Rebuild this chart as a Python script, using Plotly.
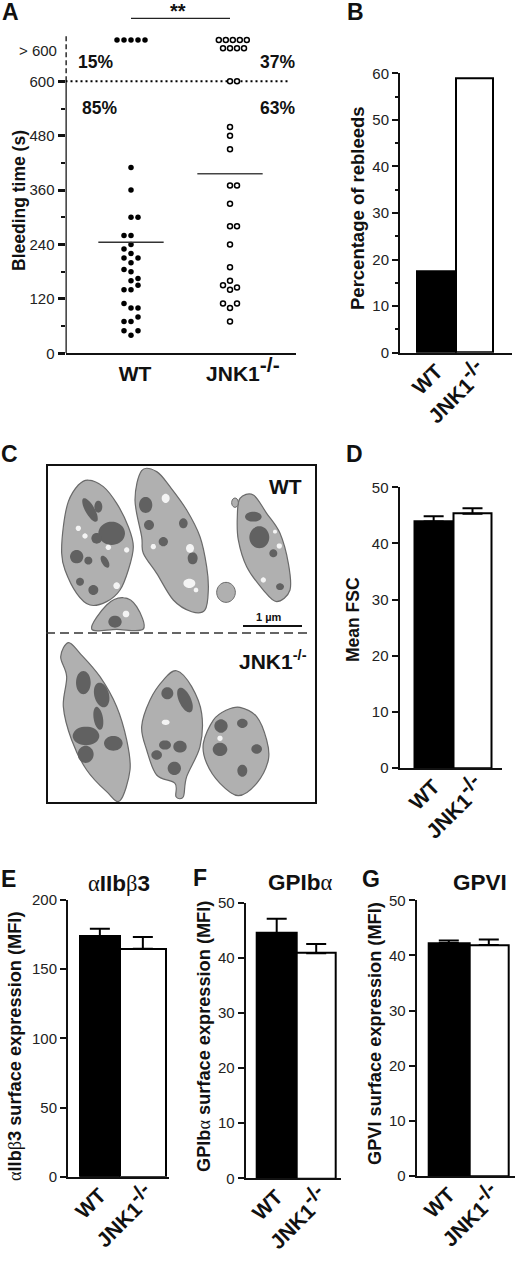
import math
import plotly.graph_objects as go

W, H = 520, 1261
FONT = "Liberation Sans"
INK = "#111111"

# ---------- Panel A data (bleeding time, seconds) ----------
WT_SECONDS = [410, 360, 300, 300, 260, 260, 240, 230, 220, 210, 210, 200, 185, 180, 165, 160, 150,
              140, 140, 110, 100, 100, 80, 70, 70, 50, 50, 40]
WT_SLOTS = [0, 0, 0, 1, -1, 0, 0, -1, 0, -1, 1, 0, -1, 0, 1, 0, 1, -1, 0, -1, 0, 1, 1, -1, 0, -1, 1, 0]
WT_OVER = [691, 691, 691, 691, 691]
WT_OVER_SLOTS = [-2, -1, 0, 1, 2]
KO_SECONDS = [600, 600, 499, 480, 450, 370, 370, 330, 280, 280, 240, 190, 160, 150, 145, 140, 110, 110, 100, 70]
KO_SLOTS = [0, 1, 0, 0, 0, 0, 1, 0, 0, 1, 0, 0, 0, -1, 1, 0, -1, 1, 0, 0]
KO_OVER = [691, 691, 691, 691, 691, 673, 673, 673, 673]
KO_OVER_SLOTS = [-1.6, -0.6, 0.4, 1.4, 2.4, -1, 0, 1, 2]
WT_MEAN = 245
KO_MEAN = 396

# ---------- Bar panels ----------
CATEGORIES = ["WT", 'JNK1<sup><span style="font-size:21px">-/-</span></sup>']
REBLEEDS = [17.4, 58.9]
FSC = [43.9, 45.3]
FSC_ERR = [0.95, 0.95]
AIIB = [174.0, 164.8]
AIIB_ERR = [5.3, 8.5]
GPIB = [44.5, 40.85]
GPIB_ERR = [2.6, 1.65]
GPVI = [42.25, 41.9]
GPVI_ERR = [0.45, 1.0]

fig = go.Figure()
layout = dict(
    width=W, height=H, autosize=False, margin=dict(l=0, r=0, t=0, b=0, autoexpand=False),
    paper_bgcolor="white", plot_bgcolor="rgba(0,0,0,0)", showlegend=False,
    font=dict(family=FONT, color=INK),
)
annots, shapes = [], []


def xp(px):
    return px / W


def yp(py):
    return 1 - py / H


def note(text, x, y, size=15, angle=0, anchor="center", color=INK):
    annots.append(dict(text=text, x=xp(x), y=yp(y), xref="paper", yref="paper", showarrow=False,
                       font=dict(size=size, family=FONT, color=color), textangle=angle,
                       xanchor=anchor, yanchor="middle", align="center"))


# ---------- Panel A ----------
A_LEFT, A_RIGHT, A_ZERO, A_TOP = 65.5, 296, 353.3, 10
A_UNIT = 54.4 / 120
a_top = (A_ZERO - A_TOP) / A_UNIT
a_x0 = 1 - (131 - A_LEFT) / 99
a_x1 = 1 + (A_RIGHT - 131) / 99
SPACE = 0.0707


def slots(center, s):
    return [center + k * SPACE for k in s]


layout["xaxis"] = dict(domain=[xp(A_LEFT), xp(A_RIGHT)], range=[a_x0, a_x1], showline=True, linecolor=INK,
                       linewidth=2, tickvals=[1.04, 2.13],
                       ticktext=["<b>WT</b>", '<b>JNK1<sup><span style="font-size:21px">-/-</span></sup></b>'],
                       tickfont=dict(size=21, family=FONT, color=INK), ticks="", showgrid=False, zeroline=False,
                       fixedrange=True)
layout["yaxis"] = dict(domain=[yp(A_ZERO), yp(A_TOP)], range=[0, a_top], tickvals=[0, 120, 240, 360, 480, 600],
                       ticks="outside", ticklen=7, tickwidth=2.5, tickcolor=INK, showline=False, showgrid=False,
                       zeroline=False, tickfont=dict(size=15, family=FONT, color="#222"), fixedrange=True,
                       minor=dict(tickvals=[60, 180, 300, 420, 540], ticks="outside", ticklen=4, tickwidth=2,
                                  tickcolor=INK))
AX = dict(xaxis="x", yaxis="y", cliponaxis=False, hoverinfo="skip")
fig.add_trace(go.Scatter(x=[a_x0, a_x0], y=[0, 600], mode="lines", line=dict(color=INK, width=2.5), **AX))
fig.add_trace(go.Scatter(x=[a_x0, a_x0], y=[600, 705], mode="lines", line=dict(color="black", width=2.5, dash="5px,3px"), **AX))
fig.add_trace(go.Scatter(x=[a_x0, 2.6], y=[600, 600], mode="lines", line=dict(color="black", width=2, dash="2px,3px"), **AX))
fig.add_trace(go.Scatter(x=slots(1, WT_SLOTS + WT_OVER_SLOTS), y=WT_SECONDS + WT_OVER, mode="markers",
                         marker=dict(size=5.5, color="black"), **AX))
fig.add_trace(go.Scatter(x=slots(2, KO_SLOTS + KO_OVER_SLOTS), y=KO_SECONDS + KO_OVER, mode="markers",
                         marker=dict(size=5, color="white", line=dict(color="black", width=1.5)), **AX))
fig.add_trace(go.Scatter(x=[0.67, 1.33], y=[WT_MEAN, WT_MEAN], mode="lines", line=dict(color="#333", width=1.5), **AX))
fig.add_trace(go.Scatter(x=[1.67, 2.33], y=[KO_MEAN, KO_MEAN], mode="lines", line=dict(color="#444", width=1.5), **AX))
fig.add_trace(go.Scatter(x=[1, 2], y=[739, 739], mode="lines", line=dict(color="#222", width=1.2), **AX))
note("> 600", 59, 51, 15, anchor="right", color="#222")
note("<b>**</b>", 178, 11, 20)
note("<b>15%</b>", 95, 62, 17.5)
note("<b>85%</b>", 99, 108, 17.5)
note("<b>37%</b>", 277, 62, 17.5)
note("<b>63%</b>", 277, 108, 17.5)
note("<b>Bleeding time (s)</b>", 19, 201, 17.5, angle=-90)


# ---------- Bar panels ----------
def bar_panel(n, values, errs, left, right, zero, top, ymax, edges, dtick, minor=None, ticksize=15, labelsize=21):
    xn, yn = f"xaxis{n}", f"yaxis{n}"
    centers = [(edges[0] + edges[1]) / 2, (edges[1] + edges[2]) / 2]
    widths = [edges[1] - edges[0], edges[2] - edges[1]]
    layout[xn] = dict(domain=[xp(left), xp(right)], range=[left, right], anchor=f"y{n}", showline=True,
                      linecolor=INK, linewidth=2, tickvals=[centers[0], centers[1] + 7],
                      ticktext=[f"<b>{c}</b>" for c in CATEGORIES], tickangle=-45, ticks="", ticklabelstandoff=-4,
                      tickfont=dict(size=labelsize, family=FONT, color=INK), showgrid=False, zeroline=False,
                      fixedrange=True)
    ya = dict(domain=[yp(zero), yp(top)], range=[0, ymax], anchor=f"x{n}", showline=True, linecolor=INK, linewidth=2,
              dtick=dtick, ticks="outside", ticklen=6, tickwidth=2, tickcolor=INK, showgrid=False, zeroline=False,
              tickfont=dict(size=ticksize, family=FONT, color="#222"), fixedrange=True)
    if minor:
        ya["minor"] = dict(dtick=minor, ticks="outside", ticklen=3, tickwidth=2, tickcolor=INK)
    layout[yn] = ya
    err = None
    if errs:
        err = dict(type="data", symmetric=False, array=errs, arrayminus=[0, 0], thickness=2, width=10, color="black")
    fig.add_trace(go.Bar(x=centers, y=values, width=widths, xaxis=f"x{n}", yaxis=f"y{n}", error_y=err,
                         marker=dict(color=["black", "white"], line=dict(color="black", width=2)), hoverinfo="skip"))


layout["bargap"] = 0
bar_panel(2, REBLEEDS, None, 400, 512, 352.7, 73.3, 60, [417.3, 456, 493.3], 10, minor=5)
bar_panel(3, FSC, FSC_ERR, 399.5, 502, 768, 487.3, 50, [414, 453.3, 491.7], 10)
bar_panel(4, AIIB, AIIB_ERR, 68, 169, 1176.7, 900, 200, [79.7, 120, 165.7], 50)
bar_panel(5, GPIB, GPIB_ERR, 245.7, 341, 1178.3, 902.7, 50, [256.7, 296.7, 335.7], 10)
bar_panel(6, GPVI, GPVI_ERR, 416.7, 515, 1176, 900.3, 50, [428.3, 469.3, 508.3], 10)


def greek(ch, size):
    return f'<span style="font-family:Liberation Serif;font-size:{size}px">{ch}</span>'


note("<b>Percentage of rebleeds</b>", 358, 208, 18.5, angle=-90)
note("<b>Mean FSC</b>", 353, 620, 17.5, angle=-90)
note(f'{greek("α", 18.2)}<b>IIb</b>{greek("β", 18.2)}<b>3 surface expression (MFI)</b>', 15, 1047, 18.2, angle=-90)
note(f'<b>GPIb</b>{greek("α", 18.2)}<b> surface expression (MFI)</b>', 204, 1037, 18.2, angle=-90)
note("<b>GPVI surface expression (MFI)</b>", 375, 1034, 18.2, angle=-90)
note(f'{greek("α", 22.5)}<b>IIb</b>{greek("β", 22.5)}<b>3</b>', 119, 884, 22.5)
note(f'<b>GPIb</b>{greek("α", 22.5)}', 300, 883, 22.5)
note("<b>GPVI</b>", 480, 882, 22.5)

for letter, x, y in [("A", 10, 12), ("B", 355, 12), ("C", 9, 454), ("D", 354, 454), ("E", 8, 879), ("F", 200, 878), ("G", 371, 879)]:
    note(f"<b>{letter}</b>", x, y, 23)


# ---------- Panel C: schematic of the micrograph ----------
def zx(v):
    return xp(v / 3)


def zy(v):
    return yp(430 + v / 3)


def smooth(points):
    n = len(points)
    d = f"M{zx(points[0][0]):.4f},{zy(points[0][1]):.4f}"
    for i in range(n):
        p0, p1, p2, p3 = points[i - 1], points[i], points[(i + 1) % n], points[(i + 2) % n]
        c1 = (p1[0] + (p2[0] - p0[0]) / 6, p1[1] + (p2[1] - p0[1]) / 6)
        c2 = (p2[0] - (p3[0] - p1[0]) / 6, p2[1] - (p3[1] - p1[1]) / 6)
        d += f" C{zx(c1[0]):.4f},{zy(c1[1]):.4f} {zx(c2[0]):.4f},{zy(c2[1]):.4f} {zx(p2[0]):.4f},{zy(p2[1]):.4f}"
    return d + " Z"


def blob(cx, cy, rx, ry, ang=0):
    a = math.radians(ang)
    pts = []
    for k in range(10):
        t = 2 * math.pi * k / 10
        u, v = rx * math.cos(t), ry * math.sin(t)
        pts.append((cx + u * math.cos(a) - v * math.sin(a), cy + u * math.sin(a) + v * math.cos(a)))
    return smooth(pts)


def shape_path(path, fill, line="rgba(0,0,0,0)", lw=0):
    shapes.append(dict(type="path", path=path, xref="paper", yref="paper", fillcolor=fill,
                       line=dict(color=line, width=lw), layer="above"))


CELLS = [
    [(265, 150), (310, 170), (350, 220), (385, 290), (400, 350), (385, 420), (360, 480), (320, 515), (270, 525),
     (230, 490), (195, 420), (185, 370), (190, 290), (205, 215), (235, 165)],
    [(425, 122), (470, 125), (510, 170), (560, 240), (600, 320), (620, 410), (625, 480), (615, 540), (575, 545),
     (520, 510), (470, 430), (430, 370), (425, 320), (405, 210)],
    [(720, 205), (760, 195), (800, 250), (840, 310), (865, 400), (870, 480), (830, 515), (790, 480), (740, 410),
     (715, 330), (712, 260)],
    [(275, 597), (320, 525), (370, 503), (410, 530), (430, 597), (350, 598)],
    [(205, 638), (240, 670), (300, 740), (350, 830), (380, 930), (390, 1020), (360, 1112), (320, 1085), (260, 1020),
     (215, 930), (190, 830), (200, 740), (182, 680)],
    [(530, 722), (575, 770), (605, 850), (600, 950), (560, 1040), (550, 1100), (528, 1100), (525, 1060), (470, 1035),
     (440, 960), (425, 890), (450, 810), (490, 750)],
    [(720, 832), (770, 860), (800, 930), (805, 990), (770, 1060), (715, 1097), (660, 1060), (620, 1000), (610, 940),
     (640, 870), (680, 840)],
]
SMALL_BODIES = [(678, 487, 28, 30), (705, 218, 10, 14)]
DARK = [(270, 240, 14, 40, -30), (295, 230, 12, 18, 0), (335, 310, 40, 35, 0), (290, 325, 16, 16, 0),
        (315, 395, 10, 20, -30), (265, 392, 12, 12, 0), (230, 380, 20, 20, 0), (240, 455, 12, 12, 0),
        (280, 480, 15, 15, 0), (437, 225, 20, 24, 0), (447, 285, 15, 15, 0), (550, 280, 13, 15, 0),
        (578, 385, 15, 18, 0), (490, 335, 14, 14, 0), (778, 322, 30, 33, 0), (760, 260, 25, 15, 0),
        (820, 370, 12, 12, 0), (840, 470, 12, 10, 0), (345, 575, 20, 18, 0), (250, 758, 22, 35, 0),
        (305, 795, 22, 38, -15), (295, 865, 14, 35, -10), (258, 918, 40, 28, 0), (340, 940, 28, 22, 0),
        (257, 973, 24, 26, 0), (502, 790, 18, 18, 0), (555, 810, 18, 40, -25), (470, 975, 16, 14, 0),
        (495, 945, 18, 14, 0), (540, 950, 20, 18, 0), (523, 1015, 20, 20, 0), (663, 888, 20, 20, 0),
        (727, 880, 16, 14, 0), (660, 958, 22, 20, 0), (770, 957, 16, 14, 0), (727, 1022, 15, 18, 0)]
VACUOLES = [(235, 295, 8, 8), (255, 318, 8, 8), (350, 467, 10, 10), (380, 360, 8, 8), (325, 352, 8, 8),
            (497, 205, 12, 14), (570, 355, 12, 13), (568, 460, 18, 14), (460, 350, 8, 8), (588, 480, 7, 7),
            (790, 450, 8, 8), (838, 348, 8, 8), (825, 305, 6, 6), (378, 552, 10, 10), (497, 877, 12, 8),
            (660, 925, 8, 8)]
for c in CELLS:
    shape_path(smooth(c), "#b0b0b0", "#6a6a6a", 1.2)
for b in SMALL_BODIES:
    shape_path(blob(*b), "#b0b0b0", "#6a6a6a", 1)
for b in DARK:
    shape_path(blob(*b), "#616161")
for b in VACUOLES:
    shape_path(blob(*b), "#f4f4f4")

shapes.append(dict(type="rect", xref="paper", yref="paper", x0=xp(47), x1=xp(316), y0=yp(803), y1=yp(465),
                   line=dict(color=INK, width=2), fillcolor="rgba(0,0,0,0)", layer="above"))
shapes.append(dict(type="line", xref="paper", yref="paper", x0=xp(46), x1=xp(310), y0=yp(633), y1=yp(633),
                   line=dict(color="#333", width=1.3, dash="9px,5px"), layer="above"))
shapes.append(dict(type="line", xref="paper", yref="paper", x0=xp(243), x1=xp(302), y0=yp(626), y1=yp(626),
                   line=dict(color=INK, width=2), layer="above"))
note("<b>WT</b>", 285, 487, 21)
note("<b>JNK1<sup>-/-</sup></b>", 273, 660, 21)
note("<b>1 µm</b>", 269, 617, 11)

layout["annotations"] = annots
layout["shapes"] = shapes
fig.update_layout(**layout)
fig.write_html("out.html", config={"displayModeBar": False}, post_script="document.body.style.margin='0';")
